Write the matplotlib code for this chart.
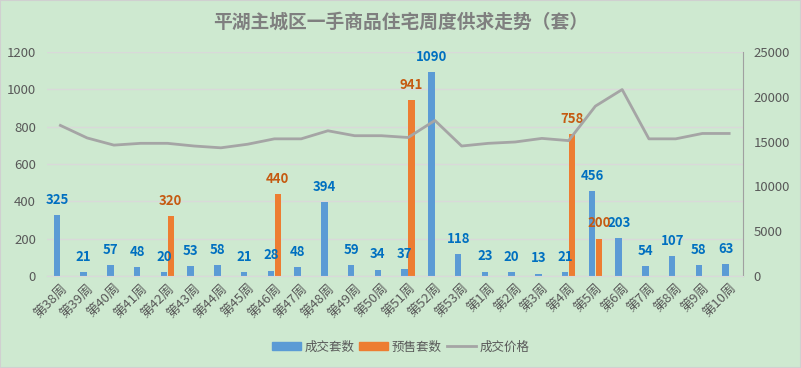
import numpy as np
import matplotlib
matplotlib.use("Agg")
import matplotlib.pyplot as plt
from matplotlib.patches import Patch
from matplotlib.lines import Line2D

plt.rcParams['font.family'] = ['Noto Sans CJK SC', 'DejaVu Sans']

weeks = ['第38周', '第39周', '第40周', '第41周', '第42周', '第43周', '第44周', '第45周',
         '第46周', '第47周', '第48周', '第49周', '第50周', '第51周', '第52周', '第53周',
         '第1周', '第2周', '第3周', '第4周', '第5周', '第6周', '第7周', '第8周', '第9周', '第10周']
chengjiao = [325, 21, 57, 48, 20, 53, 58, 21, 28, 48, 394, 59, 34, 37, 1090, 118,
             23, 20, 13, 21, 456, 203, 54, 107, 58, 63]
yushou = [np.nan, np.nan, np.nan, np.nan, 320, np.nan, np.nan, np.nan, 440, np.nan, np.nan,
          np.nan, np.nan, 941, np.nan, np.nan, np.nan, np.nan, np.nan, 758, 200, np.nan,
          np.nan, np.nan, np.nan, np.nan]
jiage = [16800, 15400, 14600, 14800, 14800, 14500, 14300, 14700, 15300, 15300, 16200,
         15650, 15650, 15450, 17350, 14500, 14800, 14950, 15350, 15100, 18950, 20800,
         15300, 15300, 15900, 15900]

BG = '#CEE9D0'
BLUE = '#5B9BD5'
ORANGE = '#ED7D31'
GRAY = '#A5A5A5'
TXT = '#595959'

fig = plt.figure(figsize=(8.01, 3.68), dpi=100, facecolor=BG)
fig.patches.append(plt.Rectangle((0, 0), 1, 1, transform=fig.transFigure,
                                 fill=False, edgecolor='#D0D0D0', lw=1.5))
ax = fig.add_axes([0.0587, 0.25, 0.8683, 0.609])
ax.set_facecolor(BG)
ax2 = ax.twinx()

x = np.arange(len(weeks))
w = 0.24
off = 0.13
ax.bar(x - off, chengjiao, w, color=BLUE, zorder=3)
ax.bar(x + off, yushou, w, color=ORANGE, zorder=3)

for xi, v in zip(x, chengjiao):
    ax.annotate(str(v), (xi - off, v), xytext=(0, 11), textcoords='offset points',
                ha='center', va='center', fontsize=9.5, fontweight='bold', color='#0070C0')
for xi, v in zip(x, yushou):
    if not np.isnan(v):
        ax.annotate(str(int(v)), (xi + off, v), xytext=(0, 11), textcoords='offset points',
                    ha='center', va='center', fontsize=9.5, fontweight='bold', color='#C55A11')

ax2.plot(x, jiage, color=GRAY, lw=2, zorder=2)

ax.set_xlim(-0.5, len(weeks) - 0.5)
ax.set_ylim(0, 1200)
ax.set_yticks(range(0, 1201, 200))
ax2.set_ylim(0, 25000)
ax2.set_yticks(range(0, 25001, 5000))
ax.grid(axis='y', color='#D9D9D9', lw=1, zorder=0)
ax.set_axisbelow(True)

ax.set_xticks(x)
ax.set_xticklabels(weeks, rotation=45, ha='right', rotation_mode='anchor')
ax.tick_params(axis='x', length=0, labelsize=9.5, labelcolor=TXT, pad=4)
ax.tick_params(axis='y', length=0, labelsize=9.5, labelcolor=TXT, pad=8)
ax2.tick_params(axis='y', length=0, labelsize=9.5, labelcolor=TXT, pad=8)

for a in (ax, ax2):
    for s in ('top', 'left', 'right'):
        a.spines[s].set_visible(False)
    a.spines['bottom'].set_color('#D9D9D9')
ax2.spines['right'].set_visible(True)
ax2.spines['right'].set_color('#A0A0A0')

fig.text(0.5, 0.94, '平湖主城区一手商品住宅周度供求走势（套）', ha='center', va='center',
         fontsize=13.5, fontweight='bold', color='#7F7F7F')

handles = [Patch(color=BLUE), Patch(color=ORANGE), Line2D([], [], color=GRAY, lw=2)]
fig.legend(handles, ['成交套数', '预售套数', '成交价格'], loc='center', ncol=3,
           bbox_to_anchor=(0.5, 0.057), frameon=False, fontsize=9, labelcolor=TXT,
           handlelength=2.3, handleheight=0.55, columnspacing=0.4, handletextpad=0.3)

fig.savefig('out.png', dpi=100, facecolor=BG)
